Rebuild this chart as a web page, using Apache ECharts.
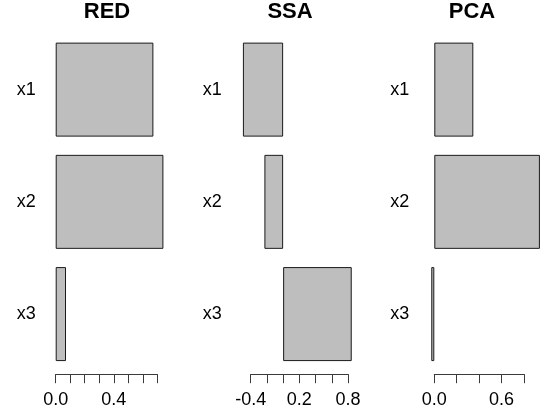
<!DOCTYPE html>
<html>
<head>
<meta charset="utf-8">
<script src="https://cdn.jsdelivr.net/npm/echarts@6/dist/echarts.min.js"></script>
<style>
html,body{margin:0;padding:0;background:#fff;}
#c{width:541px;height:414px;}
</style>
</head>
<body>
<div id="c"></div>
<script>
const categories = ['x1', 'x2', 'x3'];
const panelTitles = ['RED', 'SSA', 'PCA'];
const redValues = [0.673, 0.742, 0.071];
const ssaValues = [-0.496, -0.231, 0.846];
const pcaValues = [0.348, 0.942, -0.027];
const redTicks = { min: 0, max: 0.7, interval: 0.1, labels: ['0.0', '0.4'] };
const ssaTicks = { min: -0.4, max: 0.8, interval: 0.2, labels: ['-0.4', '0.2', '0.8'] };
const pcaTicks = { min: 0, max: 0.8, interval: 0.2, labels: ['0.0', '0.6'] };

const FONT = '"Liberation Sans", Arial, Helvetica, sans-serif';
const panels = [
  { vals: redValues, ticks: redTicks, left: 55.7, width: 101.6, titleX: 107, labelGap: 20 },
  { vals: ssaValues, ticks: ssaTicks, left: 250.7, width: 97.3, titleX: 290, labelGap: 29 },
  { vals: pcaValues, ticks: pcaTicks, left: 434.3, width: 89.7, titleX: 472, labelGap: 25 }
];
const gridTop = 33.5, gridHeight = 336.7;

const chart = echarts.init(document.getElementById('c'), null, { renderer: 'canvas' });
const option = {
  animation: false,
  backgroundColor: '#fff',
  grid: panels.map(p => ({ left: p.left, width: p.width, top: gridTop, height: gridHeight, containLabel: false })),
  xAxis: panels.map((p, i) => ({
    type: 'value', gridIndex: i,
    min: p.ticks.min, max: p.ticks.max, interval: p.ticks.interval,
    offset: 4,
    splitLine: { show: false },
    axisLine: { show: true, lineStyle: { color: '#3a3a3a', width: 1 } },
    axisTick: { show: true, length: 9, lineStyle: { color: '#3a3a3a', width: 1 } },
    axisLabel: {
      show: true, margin: 17, fontSize: 18, fontFamily: FONT, color: '#000',
      formatter: v => {
        const s = (Math.abs(v) < 1e-9 ? 0 : v).toFixed(1);
        return p.ticks.labels.indexOf(s) >= 0 ? s : '';
      }
    }
  })),
  yAxis: panels.map((p, i) => ({
    type: 'category', gridIndex: i, data: categories, inverse: true,
    axisLine: { show: false }, axisTick: { show: false }, splitLine: { show: false },
    axisLabel: { margin: p.labelGap, fontSize: 18, fontFamily: FONT, color: '#000' }
  })),
  series: panels.map((p, i) => ({
    type: 'bar', xAxisIndex: i, yAxisIndex: i, data: p.vals,
    barWidth: 94, clip: false,
    itemStyle: { color: '#bebebe', borderColor: '#1a1a1a', borderWidth: 1 }
  })),
  graphic: panels.map((p, i) => ({
    type: 'text', x: p.titleX, y: 12,
    style: { text: panelTitles[i], fontSize: 22, fontWeight: 'bold', fontFamily: FONT,
             fill: '#000', align: 'center', verticalAlign: 'middle' }
  }))
};
chart.setOption(option);
</script>
</body>
</html>
